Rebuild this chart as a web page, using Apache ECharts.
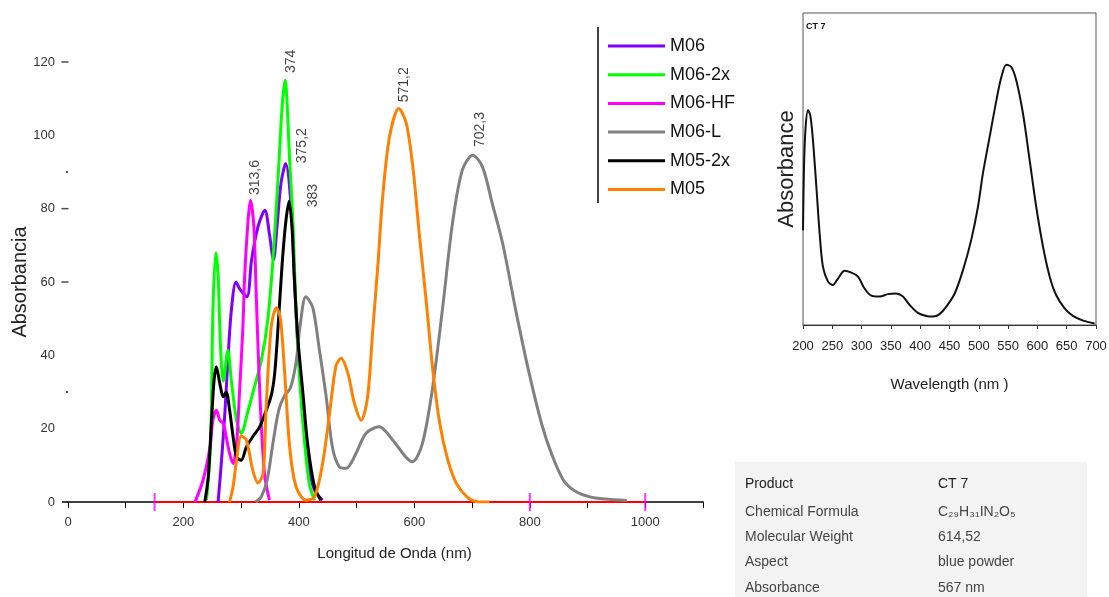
<!DOCTYPE html>
<html>
<head>
<meta charset="utf-8">
<script src="https://cdn.jsdelivr.net/npm/echarts@6/dist/echarts.min.js"></script>
<style>
html, body { margin: 0; padding: 0; background: #fff; }
#chart { width: 1109px; height: 597px; }
</style>
</head>
<body>
<div id="chart"></div>
<script>
// series (nm, absorbancia)
var seriesNames = ['M06', 'M06-2x', 'M06-HF', 'M06-L', 'M05-2x', 'M05'];
var seriesColors = ['#8000ff', '#00ff00', '#ff00ff', '#808080', '#000000', '#ff8000'];

var m06 = [[260, 0], [266, 11.4], [272, 25], [277, 38.7], [283, 52.3], [291, 60], [298, 58], [310, 56],
    [318, 66], [329, 75], [341, 79.6], [349, 73], [356, 66], [362, 75], [369, 87], [377, 92.3],
    [387, 79.6], [392, 61.4], [398, 43.2], [407, 25], [415, 11.4], [427, 3.2], [441, 0.5]];
var m06_2x = [[240, 0.5], [247, 16], [251, 52], [256, 68], [260, 62], [264, 43], [269, 33], [277, 41.4],
    [283, 33], [292, 22.3], [300, 18.7], [312, 25], [323, 31.4], [335, 38.7], [346, 49.6], [355, 66],
    [364, 88.7], [371, 108], [376, 115], [384, 93.2], [390, 75], [395, 52.3], [401, 34], [410, 16],
    [418, 5], [427, 0.5]];
var m06_hf = [[220, 0], [234, 6], [246, 15], [251, 22.3], [257, 25], [263, 22.3], [269, 21.4], [274, 17.8],
    [280, 13.2], [286, 10.5], [292, 16], [297, 29.6], [303, 47.8], [306, 61.4], [312, 76.9], [316, 82.3],
    [322, 75], [326, 56.9], [330, 38.7], [335, 20.5], [341, 6.9], [349, 0.5]];
var m06_l = [[325, 0], [335, 1.5], [345, 6], [355, 16], [365, 25], [375, 29], [385, 31], [395, 38],
    [402, 48], [412, 56], [424, 53], [435, 42], [447, 29], [458, 15], [470, 9.6], [482, 9.2], [499, 13.3],
    [516, 18.7], [539, 20.5], [562, 17], [585, 12.3], [597, 11], [614, 16], [631, 30.5], [649, 53],
    [666, 76], [683, 90.5], [701, 94.6], [718, 91.4], [735, 81.4], [753, 70.5], [776, 52], [799, 35],
    [821, 21], [838, 13], [858, 6], [878, 3], [904, 1.4], [930, 0.8], [968, 0.4]];
var m05_2x = [[237, 0], [243, 6.9], [248, 20.5], [253, 33.2], [257, 36.9], [263, 32.3], [269, 28.7],
    [274, 30], [280, 25], [286, 17.8], [292, 12.3], [300, 11.4], [309, 15], [320, 17.8], [332, 20.5],
    [341, 24], [352, 29], [358, 35], [364, 48], [371, 65], [377, 76], [383, 82], [388, 75], [392, 61.4],
    [398, 45], [407, 29.6], [415, 16], [427, 4.2], [438, 0.5]];
var m05 = [[280, 0], [286, 4.2], [292, 11.4], [300, 18], [309, 16.9], [320, 8.7], [329, 5.2], [338, 7.8],
    [343, 25], [352, 47.8], [361, 53], [368, 50], [375, 36], [384, 15], [395, 4.2], [412, 0.5], [427, 1.4],
    [441, 10.5], [453, 24], [464, 37], [473, 39.2], [485, 35], [496, 27], [508, 22.3], [519, 28.7],
    [528, 47], [537, 65], [545, 83], [557, 99.6], [573, 107.3], [586, 103.3], [598, 90.5], [609, 72.3],
    [621, 54], [632, 36], [644, 21.4], [658, 11.4], [673, 5], [691, 1.4], [708, 0.1], [730, 0]];
var seriesData = [m06, m06_2x, m06_hf, m06_l, m05_2x, m05];

// peak annotations: text and the foot of the rotated label (nm, absorbancia)
var peakLabels = ['374', '375,2', '313,6', '383', '571,2', '702,3'];
var peakCoords = [[386, 117], [405, 92.4], [323.5, 83.7], [424, 80.4], [582, 109], [714, 96.8]];

// red baseline and magenta cursors on the x axis
var baseline = [[150, 0], [1000, 0]];
var cursorMarks = [150, 800, 1000];
var yTickMarks = [120, 80, 60];
var ySpecks = [90, 30];

var xTicks = [0, 200, 400, 600, 800, 1000];

// CT 7 spectrum (nm, relative absorbance)
var ct7 = [[200, 0.304], [201.7, 0.507], [204.5, 0.635], [208.5, 0.688], [212.5, 0.672], [217, 0.592],
    [222.8, 0.443], [228.4, 0.293], [234, 0.187], [242.7, 0.139], [251, 0.128], [259.7, 0.149],
    [271, 0.174], [282.5, 0.168], [293.9, 0.155], [305, 0.117], [316.6, 0.094], [330.8, 0.091],
    [345, 0.099], [359, 0.101], [370.6, 0.091], [382, 0.064], [396, 0.039], [410.5, 0.029],
    [421.8, 0.027], [433, 0.035], [444.6, 0.059], [458.8, 0.101], [473, 0.176], [487, 0.272],
    [498.6, 0.379], [507, 0.486], [518.5, 0.603], [530, 0.72], [538.5, 0.795], [547, 0.834],
    [555.5, 0.827], [564, 0.784], [575.4, 0.678], [586.8, 0.528], [598, 0.379], [609.6, 0.251],
    [621, 0.155], [632, 0.096], [646.5, 0.053], [660.7, 0.029], [677.8, 0.014], [697.7, 0.005]];

var tableLabels = ['Product', 'Chemical Formula', 'Molecular Weight', 'Aspect', 'Absorbance'];
var tableValues = ['CT 7', 'C\u2082\u2089H\u2083\u2081IN\u2082O\u2085', '614,52', 'blue powder', '567 nm'];

var font = '"Liberation Sans", Arial, sans-serif';

var series = seriesNames.map(function (name, i) {
    return {
        name: name,
        type: 'line',
        xAxisIndex: 0,
        yAxisIndex: 0,
        data: seriesData[i],
        showSymbol: false,
        symbol: 'none',
        smooth: 0.3,
        color: seriesColors[i],
        lineStyle: { width: 3, color: seriesColors[i] },
        z: 3 + i
    };
});

series.unshift({
    type: 'line',
    name: 'base',
    data: baseline,
    symbol: 'none',
    silent: true,
    lineStyle: { width: 2, color: '#ff0000' },
    z: 2
});

series.push({
    type: 'scatter',
    name: 'cursors',
    data: cursorMarks.map(function (v) { return [v, 0]; }),
    symbol: 'rect',
    symbolSize: [2, 18],
    itemStyle: { color: '#ff00ff' },
    silent: true,
    clip: false,
    z: 12
});

series.push({
    type: 'scatter',
    name: 'yticks',
    data: yTickMarks.map(function (v) { return [0, v]; }),
    symbol: 'rect',
    symbolSize: [7, 1.5],
    symbolOffset: [-3, 0],
    itemStyle: { color: '#222' },
    silent: true,
    clip: false
});

series.push({
    type: 'scatter',
    name: 'specks',
    data: ySpecks.map(function (v) { return [0, v]; }),
    symbol: 'rect',
    symbolSize: 2,
    symbolOffset: [-1, 0],
    itemStyle: { color: '#222' },
    silent: true,
    clip: false
});

series.push({
    type: 'scatter',
    name: 'peaks',
    data: peakCoords,
    symbolSize: 0,
    silent: true,
    clip: false,
    label: {
        show: true,
        position: [0, 0],
        rotate: 90,
        align: 'left',
        verticalAlign: 'middle',
        fontSize: 14,
        fontFamily: font,
        color: '#111',
        formatter: function (p) { return peakLabels[p.dataIndex]; }
    },
    z: 20
});

series.push({
    type: 'line',
    name: 'CT 7',
    xAxisIndex: 1,
    yAxisIndex: 1,
    data: ct7,
    symbol: 'none',
    smooth: 0.3,
    lineStyle: { width: 2, color: '#111' }
});

var graphics = [
    { type: 'line', shape: { x1: 598, y1: 27, x2: 598, y2: 203 }, style: { stroke: '#000', lineWidth: 1.5 } },
    { type: 'line', shape: { x1: 62, y1: 502, x2: 68, y2: 502 }, style: { stroke: '#000', lineWidth: 1.5 } },
    { type: 'text', left: 806, top: 22, style: { text: 'CT 7', font: 'bold 9px ' + font, fill: '#111' } },
    { type: 'rect', shape: { x: 735, y: 462, width: 352, height: 135 }, style: { fill: '#f3f3f3' }, z: -1 }
];
var rowY = [484, 512, 537, 562, 588];
tableLabels.forEach(function (t, i) {
    graphics.push({ type: 'text', x: 745, y: rowY[i],
        style: { text: t, font: '14px ' + font, fill: i === 0 ? '#222' : '#444', verticalAlign: 'middle' } });
    graphics.push({ type: 'text', x: 938, y: rowY[i],
        style: { text: tableValues[i], font: '14px ' + font, fill: i === 0 ? '#222' : '#444', verticalAlign: 'middle' } });
});

var option = {
    backgroundColor: '#fff',
    animation: false,
    textStyle: { fontFamily: font },
    legend: {
        data: seriesNames,
        orient: 'vertical',
        left: 603,
        top: 31,
        icon: 'rect',
        itemWidth: 57,
        itemHeight: 3,
        itemGap: 8.7,
        textStyle: { fontSize: 18, lineHeight: 20, color: '#111', fontFamily: font }
    },
    grid: [
        { left: 68, top: 62, width: 635, height: 440, outerBoundsMode: 'none', containLabel: false },
        { left: 803, top: 13, width: 293, height: 312, outerBoundsMode: 'none', containLabel: false,
          show: true, borderColor: '#555', borderWidth: 1, backgroundColor: 'transparent' }
    ],
    xAxis: [{
        type: 'value',
        gridIndex: 0,
        min: 0,
        max: 1100,
        interval: 100,
        name: 'Longitud de Onda (nm)',
        nameLocation: 'middle',
        nameGap: 44,
        nameTextStyle: { fontSize: 15, color: '#222', padding: [0, 0, 0, 18] },
        axisLine: { lineStyle: { color: '#000', width: 1.5 } },
        axisTick: { length: 6, lineStyle: { color: '#000' } },
        axisLabel: {
            fontSize: 13, color: '#333', margin: 14,
            formatter: function (v) { return xTicks.indexOf(v) >= 0 ? String(v) : ''; }
        },
        splitLine: { show: false }
    }, {
        type: 'value',
        gridIndex: 1,
        min: 200,
        max: 700,
        interval: 50,
        name: 'Wavelength (nm )',
        nameLocation: 'middle',
        nameGap: 52,
        nameTextStyle: { fontSize: 15, color: '#222' },
        axisLine: { lineStyle: { color: '#333', width: 1 } },
        axisTick: { length: 4, lineStyle: { color: '#333' } },
        axisLabel: { fontSize: 13, color: '#222', margin: 15 },
        splitLine: { show: false }
    }],
    yAxis: [{
        type: 'value',
        gridIndex: 0,
        min: 0,
        max: 120,
        interval: 20,
        name: 'Absorbancia',
        nameLocation: 'middle',
        nameGap: 38,
        nameMoveOverlap: false,
        nameTextStyle: { fontSize: 20, color: '#222' },
        axisLine: { show: false },
        axisTick: { show: false },
        axisLabel: { fontSize: 13, color: '#333', margin: 13 },
        splitLine: { show: false }
    }, {
        type: 'value',
        gridIndex: 1,
        min: 0,
        max: 1,
        name: 'Absorbance',
        nameLocation: 'middle',
        nameGap: 5,
        nameTextStyle: { fontSize: 22, color: '#222' },
        axisLine: { show: false },
        axisTick: { show: false },
        axisLabel: { show: false },
        splitLine: { show: false }
    }],
    graphic: graphics,
    series: series
};

var myChart = echarts.init(document.getElementById('chart'));
myChart.setOption(option);
</script>
</body>
</html>
